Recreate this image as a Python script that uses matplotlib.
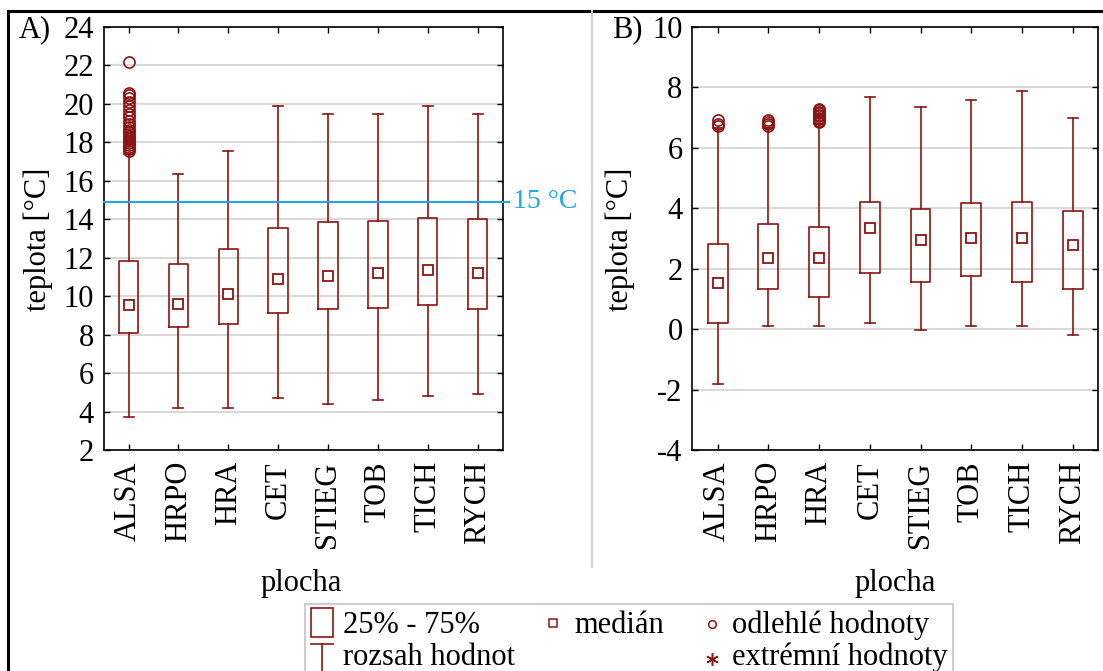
import matplotlib
matplotlib.use('Agg')
import matplotlib.pyplot as plt
from matplotlib.patches import Rectangle
from matplotlib.lines import Line2D

plt.rcParams['font.family'] = ['Liberation Serif', 'DejaVu Serif']
plt.rcParams['axes.unicode_minus'] = False

categories = ['ALSA', 'HRPO', 'HRA', 'CET', 'STIEG', 'TOB', 'TICH', 'RYCH']

# Panel A - temperature [°C]
a_q1 = [8.07, 8.40, 8.55, 9.14, 9.35, 9.40, 9.55, 9.35]
a_med = [9.52, 9.60, 10.10, 10.90, 11.05, 11.20, 11.35, 11.20]
a_q3 = [11.83, 11.65, 12.45, 13.55, 13.85, 13.90, 14.05, 14.00]
a_min = [3.70, 4.20, 4.20, 4.70, 4.40, 4.60, 4.80, 4.90]
a_max = [17.40, 16.35, 17.55, 19.90, 19.50, 19.50, 19.90, 19.50]
a_fliers = [
    [17.55, 17.65, 17.75, 17.85, 17.95, 18.05, 18.15, 18.25, 18.35, 18.45,
     18.55, 18.65, 18.8, 18.95, 19.1, 19.3, 19.5, 19.7, 19.9, 20.1, 20.3,
     20.45, 20.55, 22.2],
    [], [], [], [], [], [], []]
a_threshold = 14.9

# Panel B - temperature [°C]
b_q1 = [0.21, 1.32, 1.05, 1.87, 1.57, 1.75, 1.57, 1.32]
b_med = [1.53, 2.37, 2.37, 3.34, 2.94, 3.02, 3.02, 2.80]
b_q3 = [2.81, 3.47, 3.37, 4.20, 3.96, 4.16, 4.20, 3.92]
b_min = [-1.83, 0.12, 0.12, 0.21, -0.02, 0.12, 0.12, -0.20]
b_max = [6.65, 6.65, 6.78, 7.68, 7.35, 7.60, 7.87, 6.99]
b_fliers = [
    [6.72, 6.8, 6.92],
    [6.72, 6.78, 6.85, 6.92],
    [6.85, 6.9, 6.95, 7.0, 7.05, 7.1, 7.15, 7.2, 7.25, 7.3],
    [], [], [], [], []]

RED = '#8B1414'
BLUE = '#1FA7E6'
W, H = 1103, 671

fig = plt.figure(figsize=(W / 100, H / 100), dpi=100)


def rect(l, r, t, b):
    return [l / W, 1 - b / H, (r - l) / W, (b - t) / H]


def draw_panel(ax, q1, med, q3, lo, hi, fliers, ylim, yticks):
    stats = []
    for i in range(len(categories)):
        stats.append(dict(med=med[i], q1=q1[i], q3=q3[i], whislo=lo[i],
                          whishi=hi[i], fliers=fliers[i], label=categories[i]))
    pos = list(range(len(categories)))
    ax.bxp(stats, positions=pos, widths=0.39, capwidths=0.2,
           boxprops=dict(color=RED, linewidth=1.2),
           whiskerprops=dict(color=RED, linewidth=1.2),
           capprops=dict(color=RED, linewidth=1.2),
           medianprops=dict(linewidth=0),
           flierprops=dict(marker='o', markersize=8, markerfacecolor='none',
                           markeredgecolor=RED, markeredgewidth=1.2))
    ax.plot(pos, med, linestyle='none', marker='s', markersize=7.5,
            markerfacecolor='white', markeredgecolor=RED, markeredgewidth=1.3,
            zorder=5)
    ax.set_xlim(-0.5, len(categories) - 0.5)
    ax.set_ylim(*ylim)
    ax.set_yticks(yticks)
    ax.set_xticks(pos)
    ax.set_xticklabels(categories, rotation=90)
    ax.tick_params(axis='both', direction='in', top=True, right=True,
                   length=4.5, width=1, labelsize=22, pad=7, colors='black')
    ax.tick_params(axis='x', pad=8)
    ax.grid(axis='y', color='#d6d6d6', linewidth=1.3)
    ax.set_axisbelow(True)
    for s in ax.spines.values():
        s.set_linewidth(1.2)
        s.set_color('black')


axA = fig.add_axes(rect(103.6, 502.5, 27, 450))
draw_panel(axA, a_q1, a_med, a_q3, a_min, a_max, a_fliers, (2, 24),
           list(range(2, 25, 2)))
axA.axhline(a_threshold, xmin=0, xmax=1.016, color=BLUE, linewidth=1.5,
            clip_on=False, zorder=6)
axA.text(1.026, a_threshold, '15 °C', color=BLUE, fontsize=20, va='center',
         ha='left', transform=axA.get_yaxis_transform())

axB = fig.add_axes(rect(692.3, 1098, 27, 450))
draw_panel(axB, b_q1, b_med, b_q3, b_min, b_max, b_fliers, (-4, 10),
           list(range(-4, 11, 2)))

# overlay for texts and frame
ov = fig.add_axes([0, 0, 1, 1], zorder=10)
ov.set_xlim(0, W)
ov.set_ylim(H, 0)
ov.axis('off')
ov.patch.set_alpha(0)

ov.text(35, 30, 'A)', fontsize=22, ha='center', va='center')
ov.text(627, 30, 'B)', fontsize=22, ha='center', va='center')
ov.text(38, 239, 'teplota [°C]', fontsize=22, rotation=90, ha='center', va='center')
ov.text(620, 239, 'teplota [°C]', fontsize=22, rotation=90, ha='center', va='center')
ov.text(301, 583, 'plocha', fontsize=22, ha='center', va='center')
ov.text(895, 583, 'plocha', fontsize=22, ha='center', va='center')

# frame
ov.add_line(Line2D([8, W], [11, 11], color='black', linewidth=2.2))
ov.add_line(Line2D([8, 8], [11, H], color='black', linewidth=2.2))
ov.add_line(Line2D([591.5, 591.5], [11, 567], color='#d0d0d0', linewidth=1.5))

# legend
ov.add_patch(Rectangle((305, 604), 953 - 305, 80, facecolor='white',
                       edgecolor='#c4c4c4', linewidth=1.2, clip_on=False))
ov.add_patch(Rectangle((311, 608), 22, 28.5, facecolor='none', edgecolor=RED,
                       linewidth=1.2))
ov.text(343, 633, '25% - 75%', fontsize=22, va='baseline', ha='left')
ov.add_line(Line2D([311, 333], [644, 644], color=RED, linewidth=1.2))
ov.add_line(Line2D([322, 322], [644, 680], color=RED, linewidth=1.2))
ov.text(343, 665, 'rozsah hodnot', fontsize=22, va='baseline', ha='left')
ov.plot([553], [623], marker='s', markersize=6, markerfacecolor='white',
        markeredgecolor=RED, markeredgewidth=1.1, linestyle='none')
ov.text(574, 633, 'medián', fontsize=22, va='baseline', ha='left')
ov.plot([712], [624], marker='o', markersize=5.5, markerfacecolor='none',
        markeredgecolor=RED, markeredgewidth=1.1, linestyle='none')
ov.text(732, 633, 'odlehlé hodnoty', fontsize=22, va='baseline', ha='left')
ov.plot([712], [659], marker=(6, 2, 0), markersize=9, markeredgecolor=RED,
        markeredgewidth=1.1, linestyle='none')
ov.text(732, 665, 'extrémní hodnoty', fontsize=22, va='baseline', ha='left')

fig.savefig('out.png', dpi=100)
